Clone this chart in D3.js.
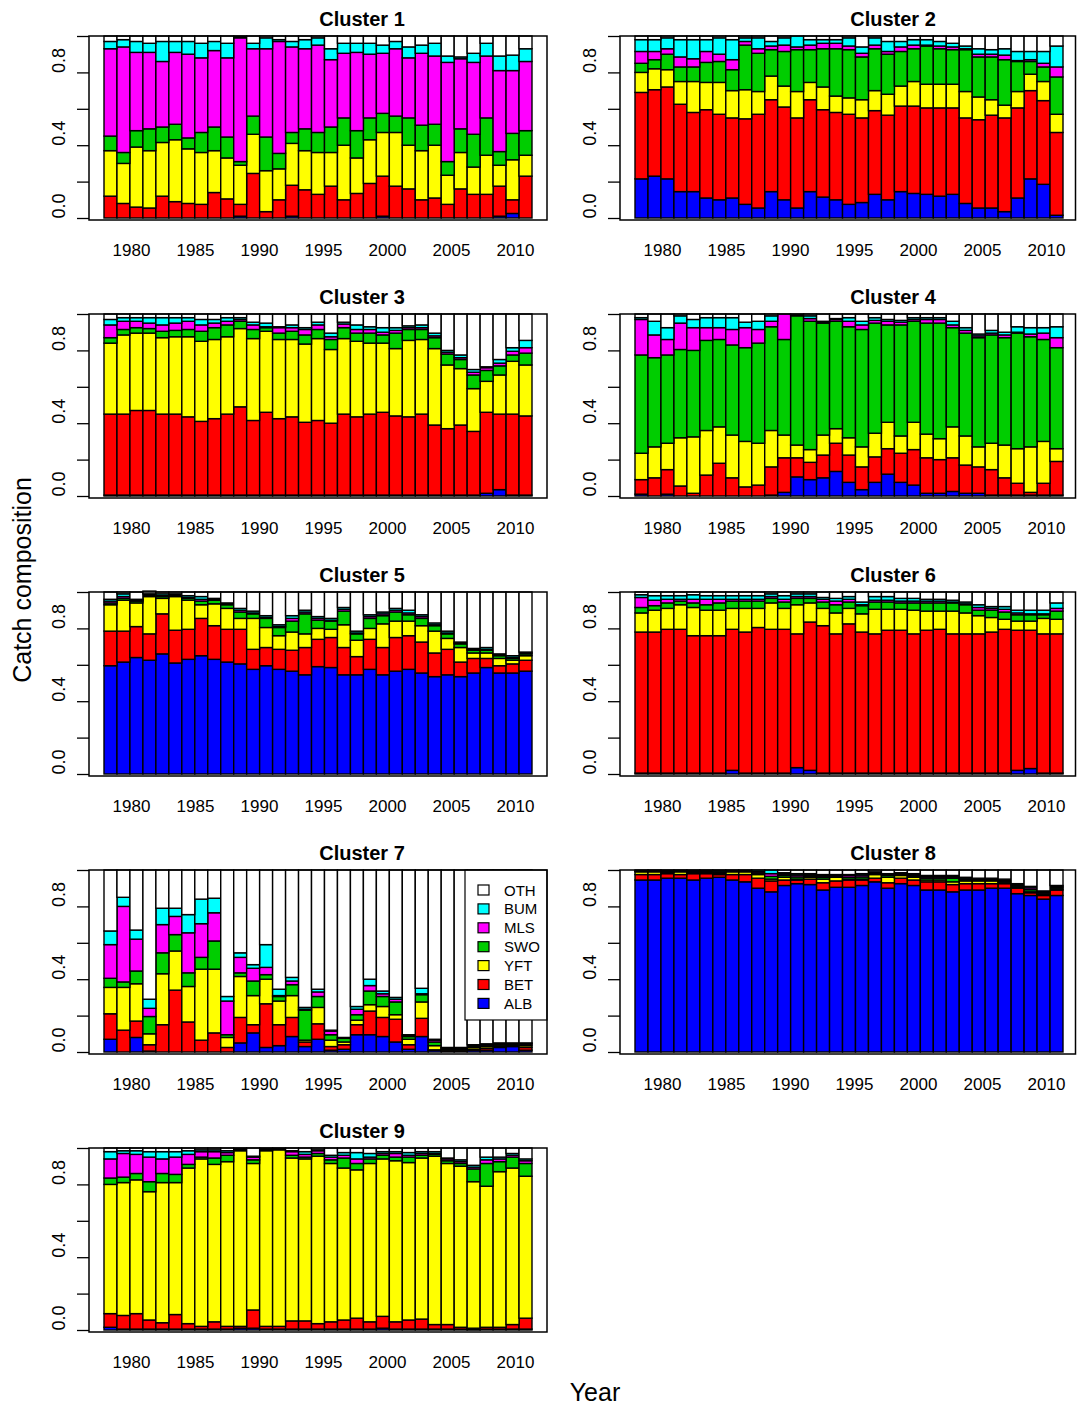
<!DOCTYPE html>
<html>
<head>
<meta charset="utf-8">
<script src="https://d3js.org/d3.v7.min.js"></script>
<style>
  body { margin: 0; background: #fff; }
  text { font-family: "Liberation Sans", Arial, sans-serif; }
</style>
</head>
<body>
<div id="chart"></div>
<script>
// years shown as bars
const years = [1979,1980,1981,1982,1983,1984,1985,1986,1987,1988,1989,1990,1991,1992,1993,1994,1995,
  1996,1997,1998,1999,2000,2001,2002,2003,2004,2005,2006,2007,2008,2009,2010,2011];
const tickYears = [1980,1985,1990,1995,2000,2005,2010];
const yTicks = [0,0.2,0.4,0.6,0.8,1];
const yLabels = [0,0.4,0.8];
const species = ["ALB","BET","YFT","SWO","MLS","BUM","OTH"];
const legendOrder = ["OTH","BUM","MLS","SWO","YFT","BET","ALB"];
const titles = ["Cluster 1","Cluster 2","Cluster 3","Cluster 4","Cluster 5","Cluster 6","Cluster 7","Cluster 8","Cluster 9"];

// rows: ALB, BET, YFT, SWO, MLS, BUM, OTH
const cluster1 = [
  [0,0,0,0,0,0,0,0,0,0,.01,0,0,0,.01,0,0,0,0,0,0,.01,0,0,0,0,0,0,0,0,.01,.025,0],
  [.12,.08,.06,.055,.12,.09,.08,.075,.14,.105,.065,.245,.035,.10,.17,.155,.13,.175,.10,.135,.19,.22,.175,.16,.10,.11,.075,.16,.13,.13,.165,.075,.23],
  [.25,.22,.33,.315,.295,.34,.30,.285,.23,.225,.215,.215,.225,.17,.23,.215,.23,.185,.30,.195,.24,.24,.295,.24,.27,.29,.16,.20,.15,.215,.115,.22,.115],
  [.08,.06,.09,.12,.085,.085,.06,.11,.13,.115,.02,.10,.185,.085,.06,.12,.11,.14,.15,.15,.12,.105,.09,.15,.14,.115,.075,.13,.18,.205,.075,.145,.135],
  [.48,.58,.43,.42,.36,.395,.46,.41,.42,.435,.68,.37,.485,.615,.47,.44,.48,.37,.355,.43,.35,.33,.37,.33,.395,.375,.545,.385,.395,.34,.445,.345,.38],
  [.04,.04,.06,.05,.11,.06,.07,.08,.05,.08,.005,.03,.06,.01,.03,.05,.04,.06,.055,.05,.06,.045,.04,.06,.045,.07,.035,.01,.05,.07,.08,.085,.07],
  [.03,.02,.03,.04,.03,.03,.03,.04,.03,.04,.005,.04,.01,.02,.03,.02,.01,.07,.04,.04,.04,.05,.03,.06,.05,.04,.11,.115,.095,.04,.11,.105,.07]
];
const cluster2 = [
  [.215,.23,.215,.145,.145,.11,.10,.11,.075,.055,.145,.10,.055,.145,.115,.10,.075,.085,.13,.10,.145,.135,.13,.12,.13,.08,.055,.055,.035,.11,.215,.185,.015],
  [.475,.475,.505,.48,.435,.485,.47,.44,.47,.515,.505,.51,.495,.505,.48,.48,.495,.465,.46,.465,.47,.48,.475,.485,.475,.47,.485,.51,.515,.495,.485,.46,.455],
  [.11,.115,.095,.125,.17,.15,.175,.15,.16,.125,.13,.115,.145,.095,.125,.09,.09,.10,.11,.115,.11,.135,.13,.13,.13,.145,.125,.085,.07,.09,.09,.105,.10],
  [.05,.05,.085,.08,.08,.11,.115,.115,.245,.21,.145,.19,.23,.18,.21,.26,.265,.235,.23,.22,.19,.18,.21,.195,.19,.23,.22,.235,.25,.165,.07,.08,.205],
  [.065,.045,.03,.055,.045,.06,.04,.055,.02,.025,.02,.035,.015,.025,.03,.03,.02,.02,.02,.015,.025,.02,.005,.015,.015,.005,.015,.015,.025,.005,.01,.02,.055],
  [.065,.065,.06,.095,.105,.065,.09,.11,.02,.06,.025,.04,.06,.03,.02,.02,.045,.035,.04,.055,.03,.03,.03,.025,.02,.015,.03,.025,.035,.05,.045,.065,.115],
  [.02,.02,.01,.02,.02,.02,.01,.02,.01,.01,.03,.01,0,.02,.02,.02,.01,.06,.01,.03,.03,.02,.02,.03,.04,.055,.07,.075,.07,.085,.085,.085,.055]
];
const cluster3 = [
  [.005,.005,.005,.005,.005,.005,.005,.005,.005,.005,.005,.005,.005,.005,.005,.005,.005,.005,.005,.005,.005,.005,.005,.005,.005,.005,.005,.005,.005,.015,.035,.005,.005],
  [.445,.445,.465,.465,.445,.445,.43,.405,.42,.445,.485,.41,.455,.42,.43,.40,.41,.395,.445,.43,.445,.455,.435,.43,.445,.385,.365,.385,.35,.445,.415,.445,.435],
  [.39,.435,.425,.425,.42,.425,.44,.44,.435,.425,.43,.45,.445,.435,.425,.43,.45,.405,.415,.415,.39,.38,.37,.42,.41,.42,.35,.31,.235,.17,.215,.29,.28],
  [.03,.03,.03,.025,.035,.035,.04,.055,.065,.065,.04,.05,.02,.035,.045,.05,.05,.055,.06,.045,.055,.045,.085,.06,.055,.06,.06,.05,.075,.06,.05,.035,.065],
  [.07,.045,.035,.03,.035,.04,.045,.035,.025,.02,.01,.025,.005,.03,.02,.03,.025,.015,.02,.02,.02,.015,.015,.01,.01,.01,.01,.01,.015,.015,.015,.02,.03],
  [.03,.02,.02,.03,.04,.03,.02,.03,.02,.02,.01,.015,.02,.005,.015,.01,.015,.02,.01,.025,.015,.025,.015,.01,.015,.015,.01,.015,.015,.005,.02,.02,.04],
  [.03,.02,.02,.02,.02,.02,.02,.03,.03,.02,.02,.045,.05,.07,.06,.075,.045,.105,.045,.06,.07,.075,.075,.065,.06,.105,.20,.225,.305,.29,.25,.185,.145]
];
const cluster4 = [
  [.01,0,.01,0,0,0,0,0,0,0,.005,.02,.105,.09,.10,.135,.075,.035,.075,.12,.075,.06,.015,.015,.025,.015,.015,.005,.005,.005,.005,.005,.005],
  [.08,.10,.135,.055,.015,.115,.18,.10,.05,.06,.155,.19,.105,.095,.125,.155,.15,.125,.14,.14,.16,.195,.195,.185,.185,.155,.145,.14,.095,.065,.015,.065,.185],
  [.145,.17,.145,.265,.31,.245,.20,.235,.25,.23,.20,.125,.07,.07,.11,.08,.095,.11,.13,.145,.095,.15,.13,.115,.17,.16,.11,.145,.18,.19,.25,.23,.07],
  [.54,.49,.485,.485,.475,.495,.48,.495,.515,.55,.57,.525,.71,.705,.615,.59,.61,.645,.605,.535,.61,.555,.61,.635,.545,.565,.60,.595,.59,.635,.605,.56,.555],
  [.195,.125,.085,.145,.125,.07,.065,.085,.11,.075,.03,.14,.005,.015,.005,.01,.03,.025,.015,.02,.015,.01,.02,.02,.015,.015,.01,.01,.015,.005,.015,.035,.055],
  [.01,.075,.065,.04,.045,.055,.055,.065,.03,.045,.03,0,.005,.015,.005,.005,.02,.02,.015,.01,.01,.01,.01,.01,.02,.015,.01,.015,.015,.03,.035,.03,.06],
  [.02,.04,.075,.01,.03,.02,.02,.02,.045,.04,.01,0,0,.01,.04,.025,.02,.04,.02,.03,.035,.02,.02,.02,.04,.075,.11,.09,.10,.07,.075,.075,.07]
];
const cluster5 = [
  [.595,.615,.64,.625,.66,.61,.63,.65,.63,.615,.605,.575,.595,.575,.565,.545,.59,.585,.545,.545,.575,.545,.565,.575,.555,.535,.545,.535,.555,.585,.555,.555,.565],
  [.19,.17,.17,.145,.22,.18,.165,.205,.185,.18,.19,.11,.10,.11,.115,.15,.15,.165,.15,.10,.165,.15,.185,.185,.17,.13,.14,.08,.08,.05,.04,.05,.06],
  [.145,.17,.13,.205,.085,.185,.16,.075,.12,.115,.06,.17,.11,.075,.10,.075,.06,.045,.125,.09,.06,.13,.09,.08,.09,.12,.06,.08,.03,.03,.04,.02,.025],
  [.01,.01,.01,.005,.01,.005,.01,.02,.02,.02,.035,.025,.05,.045,.06,.11,.045,.045,.075,.035,.055,.045,.05,.035,.04,.03,.025,.02,.015,.015,.015,.01,.01],
  [.01,.01,.005,.005,.005,.005,.005,.01,.005,.005,.01,.005,.005,.005,.015,.01,.01,.005,.01,.005,.01,.01,.01,.01,.01,.005,.005,.005,.005,.005,.005,.005,.005],
  [.01,.015,.005,.005,.01,.005,.01,.015,.005,.005,.01,.01,.01,.01,.015,.01,.01,.01,.01,.01,.01,.01,.01,.015,.01,.01,.01,.005,.005,.01,.005,.01,.005],
  [.04,.01,.04,.015,.01,.01,.02,.025,.035,.06,.09,.105,.13,.18,.13,.10,.135,.145,.085,.215,.125,.11,.09,.10,.125,.17,.215,.275,.31,.305,.34,.35,.33]
];
const cluster6 = [
  [.005,.005,.005,.005,.005,.005,.005,.02,.005,.005,.005,.005,.035,.02,.005,.005,.005,.005,.005,.005,.005,.005,.005,.005,.005,.005,.005,.005,.005,.02,.03,.005,.005],
  [.775,.775,.79,.79,.755,.755,.755,.775,.775,.80,.79,.79,.735,.815,.81,.765,.82,.775,.765,.785,.785,.765,.785,.79,.765,.765,.765,.775,.79,.77,.76,.765,.765],
  [.105,.12,.115,.135,.155,.14,.14,.115,.13,.105,.145,.115,.16,.105,.095,.115,.085,.10,.135,.115,.115,.13,.105,.10,.125,.115,.10,.08,.055,.05,.05,.085,.08],
  [.03,.025,.03,.02,.025,.03,.04,.04,.04,.04,.025,.035,.035,.025,.035,.045,.035,.045,.04,.04,.035,.04,.045,.045,.045,.045,.03,.04,.04,.035,.035,.02,.045],
  [.055,.03,.02,.01,.02,.03,.02,.01,.01,.01,.01,.015,.01,.01,.015,.02,.015,.005,.01,.01,.01,.01,.01,.01,.005,.005,.015,.01,.015,.01,.005,.005,.015],
  [.015,.025,.02,.02,.025,.02,.02,.02,.02,.02,.015,.02,.015,.015,.01,.015,.015,.015,.02,.02,.015,.015,.01,.01,.01,.01,.015,.01,.015,.015,.02,.02,.03],
  [.015,.02,.02,.02,.015,.02,.02,.02,.02,.02,.01,.02,.01,.01,.03,.035,.025,.055,.025,.025,.035,.035,.04,.04,.045,.055,.07,.08,.08,.10,.10,.10,.06]
];
const cluster7 = [
  [.07,0,.08,.005,0,0,0,0,0,0,.05,.105,.025,.035,.085,.03,.07,.01,.015,.095,.095,.085,.055,.015,.085,.01,.005,.005,.01,.01,.025,.03,.01],
  [.14,.12,.09,.035,.15,.34,.165,.065,.105,.025,.14,.045,.24,.115,.105,.025,.085,.02,.025,.055,.13,.105,.125,.025,.10,.002,.005,.005,.005,.01,.005,.005,.015],
  [.145,.235,.205,.06,.28,.215,.195,.39,.35,.055,.225,.16,.135,.13,.12,.01,.09,.035,.015,.025,.035,.06,.025,.03,.09,.023,.005,.005,.01,.01,.008,.006,.01],
  [.05,.03,.07,.095,.115,.09,.075,.065,.155,.015,.02,.08,.025,.025,.06,.165,.06,.03,.02,.03,.075,.055,.07,.015,.04,.02,.005,.005,.008,.008,.006,.005,.008],
  [.185,.415,.175,.045,.155,.10,.22,.185,.155,.185,.085,.07,.04,.005,.02,.005,.025,.02,.003,.03,.03,.015,.015,.005,.005,.01,.003,.003,.004,.004,.003,.002,.004],
  [.075,.05,.05,.05,.09,.045,.10,.135,.08,.025,.025,.02,.125,.035,.02,.01,.015,.005,.002,.015,.035,.015,.01,.005,.03,.005,.002,.002,.003,.003,.003,.002,.003],
  [.335,.15,.33,.71,.21,.21,.245,.16,.155,.695,.455,.52,.41,.655,.59,.755,.655,.88,.92,.75,.60,.665,.70,.905,.65,.93,.975,.975,.96,.955,.95,.95,.95]
];
const cluster8 = [
  [.945,.945,.955,.955,.945,.955,.96,.945,.935,.90,.88,.915,.925,.92,.89,.905,.905,.915,.935,.90,.925,.915,.89,.89,.88,.89,.89,.90,.90,.87,.86,.84,.86],
  [.03,.03,.025,.02,.035,.025,.015,.03,.04,.055,.06,.03,.02,.03,.04,.035,.04,.03,.02,.03,.03,.03,.045,.045,.04,.035,.035,.025,.025,.03,.015,.02,.03],
  [.015,.015,.005,.015,.005,.005,.005,.015,.015,.02,.01,.015,.005,.01,.02,.02,.005,.005,.02,.03,.015,.015,.01,.01,.015,.015,.015,.015,.005,.005,.005,.005,.005],
  [.003,.004,.005,.004,.005,.005,.007,.004,.004,.008,.015,.01,.012,.008,.01,.006,.01,.012,.006,.01,.006,.008,.01,.01,.02,.008,.006,.006,.008,.008,.012,.008,.008],
  [.003,.003,.005,.003,.005,.005,.007,.003,.003,.008,.015,.008,.01,.007,.008,.005,.01,.01,.005,.006,.004,.007,.008,.008,.008,.007,.005,.005,.007,.007,.01,.007,.007],
  [.004,.003,.005,.003,.005,.005,.006,.003,.003,.009,.02,.007,.008,.005,.007,.004,.005,.008,.004,.004,.005,.005,.007,.007,.007,.005,.004,.004,.005,.005,.008,.005,.005],
  [0,0,0,0,0,0,0,0,0,0,0,.015,.02,.02,.025,.025,.025,.02,.01,.02,.015,.02,.03,.03,.03,.04,.045,.045,.05,.075,.09,.115,.085]
];
const cluster9 = [
  [.015,.005,.005,.005,.005,.005,.005,.005,.005,.005,.01,.01,.005,.005,.005,.005,.005,.005,.005,.005,.005,.01,.005,.005,.005,.005,.005,.005,.002,.005,.005,.005,.005],
  [.075,.075,.085,.05,.035,.08,.03,.015,.04,.015,.01,.10,.015,.015,.045,.045,.03,.04,.05,.06,.04,.065,.04,.05,.055,.025,.025,.01,.008,.01,.01,.025,.06],
  [.71,.73,.735,.705,.77,.725,.855,.92,.865,.905,.965,.805,.965,.97,.895,.89,.92,.87,.835,.815,.87,.865,.885,.865,.885,.925,.885,.885,.805,.775,.855,.86,.78],
  [.035,.03,.035,.055,.05,.045,.02,.01,.035,.035,.005,.02,.005,.005,.015,.01,.015,.02,.055,.035,.025,.02,.02,.03,.015,.01,.015,.015,.07,.125,.055,.06,.07],
  [.105,.13,.105,.135,.08,.095,.055,.03,.035,.015,.005,.015,.005,.002,.02,.015,.015,.015,.015,.025,.01,.01,.02,.01,.01,.005,.01,.01,.01,.02,.015,.01,.015],
  [.04,.015,.02,.03,.04,.03,.02,.01,.01,.01,.005,.005,.005,.003,.005,.015,.005,.01,.015,.035,.02,.01,.01,.015,.01,.01,.005,.01,.01,.015,.01,.01,.01],
  [.02,.015,.015,.02,.02,.02,.015,.01,.01,.015,0,.045,0,0,.015,.02,.01,.04,.025,.025,.03,.02,.02,.025,.02,.02,.055,.065,.095,.05,.05,.03,.06]
];
const clusters = [cluster1, cluster2, cluster3, cluster4, cluster5, cluster6, cluster7, cluster8, cluster9];

const colors = { ALB: "#0000FF", BET: "#FF0000", YFT: "#FFFF00", SWO: "#00CD00", MLS: "#FF00FF", BUM: "#00FFFF", OTH: "#FFFFFF" };

const W = 1077, H = 1405;
const svg = d3.select("#chart").append("svg").attr("width", W).attr("height", H);

const colShift = 531, rowShift = 278;
const box = { left: 89, right: 547, top: 36 };

clusters.forEach((cl, c) => {
  const col = c % 2;
  const ox = col * colShift;
  const top = box.top + Math.floor(c / 2) * rowShift;
  const g = svg.append("g");

  const x = d3.scaleBand().domain(years).range([104 + ox, 532 + ox]).padding(0);
  const y = d3.scaleLinear().domain([0, 1]).range([top + 182, top]);
  const xl = d3.scaleLinear().domain([1980, 2010]).range([131 + ox, 515 + ox]);

  const rows = years.map((yr, i) => {
    const r = { year: yr };
    species.forEach((s, k) => r[s] = cl[k][i]);
    return r;
  });
  const stacked = d3.stack().keys(species)(rows);

  g.selectAll("g.layer")
    .data(stacked)
    .enter().append("g")
    .attr("fill", d => colors[d.key])
    .selectAll("rect")
    .data(d => d)
    .enter().append("rect")
    .attr("x", d => x(d.data.year))
    .attr("width", x.bandwidth())
    .attr("y", d => y(d[1]))
    .attr("height", d => y(d[0]) - y(d[1]))
    .attr("stroke", "#000")
    .attr("stroke-width", 1.4);

  // legend (cluster 7 only)
  if (c === 6) {
    const lg = g.append("g");
    lg.append("rect")
      .attr("x", 465).attr("y", top)
      .attr("width", box.right - 465).attr("height", 150)
      .attr("fill", "#fff").attr("stroke", "#000").attr("stroke-width", 1.2);
    legendOrder.forEach((s, k) => {
      const cy = top + 20 + k * 18.9;
      lg.append("rect").attr("x", 478).attr("y", cy - 5)
        .attr("width", 11).attr("height", 10)
        .attr("fill", colors[s]).attr("stroke", "#000").attr("stroke-width", 1.2);
      lg.append("text").attr("x", 504).attr("y", cy + 5.5)
        .attr("font-size", 15).text(s);
    });
  }

  // plot box (right column is clipped by the page edge)
  const boxW = col ? (W - 1.5 - (box.left + ox)) : (box.right - box.left);
  g.append("rect")
    .attr("x", box.left + ox).attr("y", top)
    .attr("width", boxW).attr("height", 184)
    .attr("fill", "none").attr("stroke", "#000").attr("stroke-width", 1.5);

  // y axis
  const ya = g.append("g")
    .attr("transform", `translate(${box.left + ox},0)`)
    .call(d3.axisLeft(y).tickValues(yTicks).tickSize(12)
      .tickFormat(d => yLabels.includes(d) ? d.toFixed(1) : ""));
  ya.select(".domain").remove();
  ya.selectAll("line").attr("stroke", "#000").attr("stroke-width", 1.3);
  ya.selectAll("text")
    .attr("x", null).attr("dy", null)
    .attr("text-anchor", "start")
    .attr("transform", "translate(-24,0) rotate(-90)")
    .attr("font-size", 18)
    .attr("font-family", "Liberation Sans, Arial, sans-serif")
    .attr("fill", "#000");

  // x axis labels
  const xa = g.append("g")
    .attr("transform", `translate(0,${top + 220})`)
    .call(d3.axisBottom(xl).tickValues(tickYears).tickSize(0).tickFormat(d3.format("d")));
  xa.select(".domain").remove();
  xa.selectAll("text")
    .attr("y", 0).attr("dy", null)
    .attr("font-size", 17)
    .attr("font-family", "Liberation Sans, Arial, sans-serif")
    .attr("fill", "#000");

  // panel title
  g.append("text")
    .attr("x", 362 + ox).attr("y", top - 10)
    .attr("text-anchor", "middle")
    .attr("font-size", 20).attr("font-weight", "bold")
    .text(titles[c]);
});

svg.append("text")
  .attr("transform", "translate(31,580) rotate(-90)")
  .attr("text-anchor", "middle")
  .attr("font-size", 25)
  .text("Catch composition");

svg.append("text")
  .attr("x", 595).attr("y", 1401)
  .attr("text-anchor", "middle")
  .attr("font-size", 25)
  .text("Year");
</script>
</body>
</html>
